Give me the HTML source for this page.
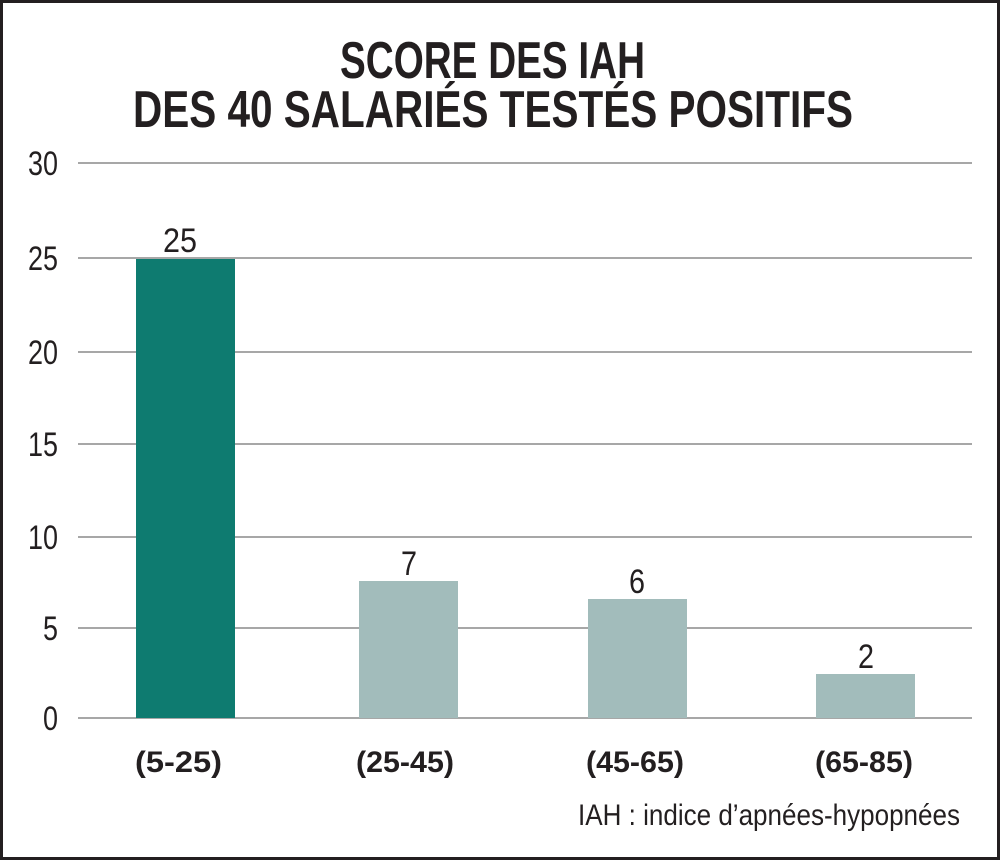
<!DOCTYPE html>
<html><head><meta charset="utf-8"><style>
html,body{margin:0;padding:0;background:#fff}
svg{display:block}
text{font-family:"Liberation Sans",sans-serif;fill:#231f20}
</style></head><body>
<svg width="1000" height="860" viewBox="0 0 1000 860">
<rect x="1.5" y="1.5" width="997" height="857" fill="#fff" stroke="#231f20" stroke-width="3"/>
<text x="340" y="78" font-size="52" font-weight="bold" textLength="305" lengthAdjust="spacingAndGlyphs">SCORE DES IAH</text>
<text x="133" y="127" font-size="52" font-weight="bold" textLength="720" lengthAdjust="spacingAndGlyphs">DES 40 SALARIÉS TESTÉS POSITIFS</text>
<g stroke="#8a8a8a" stroke-width="1.5">
<line x1="78" x2="972" y1="163" y2="163"/>
<line x1="78" x2="972" y1="258" y2="258"/>
<line x1="78" x2="972" y1="352" y2="352"/>
<line x1="78" x2="972" y1="444" y2="444"/>
<line x1="78" x2="972" y1="537" y2="537"/>
<line x1="78" x2="972" y1="628" y2="628"/>
<line x1="78" x2="972" y1="718" y2="718"/>
</g>
<g font-size="34">
<text x="28" y="175" textLength="30" lengthAdjust="spacingAndGlyphs">30</text>
<text x="28" y="270" textLength="30" lengthAdjust="spacingAndGlyphs">25</text>
<text x="28" y="364" textLength="30" lengthAdjust="spacingAndGlyphs">20</text>
<text x="28" y="456" textLength="30" lengthAdjust="spacingAndGlyphs">15</text>
<text x="28" y="549" textLength="30" lengthAdjust="spacingAndGlyphs">10</text>
<text x="43" y="640" textLength="15" lengthAdjust="spacingAndGlyphs">5</text>
<text x="43" y="730" textLength="15" lengthAdjust="spacingAndGlyphs">0</text>
</g>
<rect x="136" y="259" width="99" height="459" fill="#0e7b70"/>
<rect x="359" y="581" width="99" height="137" fill="#a2bcbb"/>
<rect x="588" y="599" width="99" height="119" fill="#a2bcbb"/>
<rect x="816" y="674" width="99" height="44" fill="#a2bcbb"/>
<g font-size="34">
<text x="163" y="252" textLength="34" lengthAdjust="spacingAndGlyphs">25</text>
<text x="401" y="575" textLength="16" lengthAdjust="spacingAndGlyphs">7</text>
<text x="629" y="593" textLength="16" lengthAdjust="spacingAndGlyphs">6</text>
<text x="858" y="668" textLength="16" lengthAdjust="spacingAndGlyphs">2</text>
</g>
<g font-size="30" font-weight="bold">
<text x="135" y="772" textLength="87" lengthAdjust="spacingAndGlyphs">(5-25)</text>
<text x="356" y="772" textLength="98" lengthAdjust="spacingAndGlyphs">(25-45)</text>
<text x="586" y="772" textLength="98" lengthAdjust="spacingAndGlyphs">(45-65)</text>
<text x="815" y="772" textLength="98" lengthAdjust="spacingAndGlyphs">(65-85)</text>
</g>
<text x="578" y="825" font-size="30" textLength="382" lengthAdjust="spacingAndGlyphs">IAH : indice d’apnées-hypopnées</text>
</svg>
</body></html>
